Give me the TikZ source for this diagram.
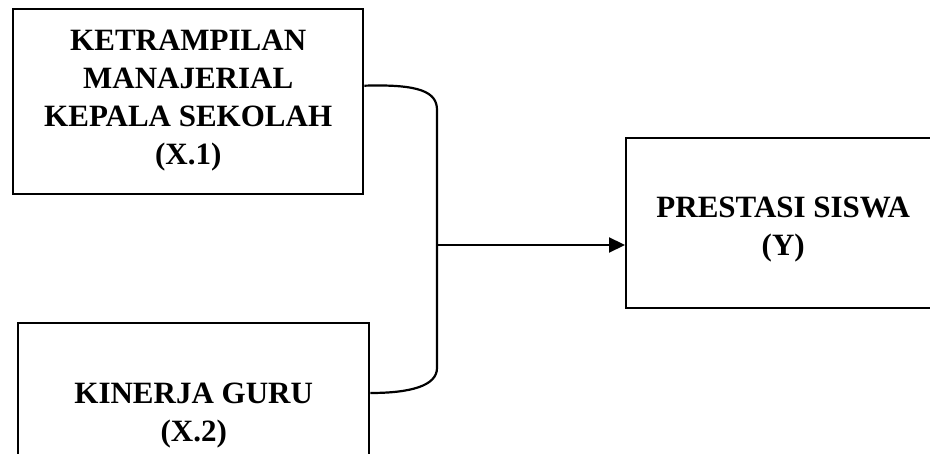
\documentclass[tikz,border=0pt]{standalone}
\usepackage{fontspec}
\setmainfont{Liberation Serif}
\usetikzlibrary{arrows.meta}
\begin{document}
\begin{tikzpicture}[x=1pt,y=-1pt,
  box/.style={draw, line width=2.4pt, rectangle, inner sep=0pt, anchor=north west},
  lbl/.style={align=center, font=\fontsize{31}{38}\selectfont\bfseries},
  conn/.style={line width=2.2pt}]
\useasboundingbox (0,0) rectangle (930,454);
\clip (0,0) rectangle (930,454);
\node[box, minimum width=350pt, minimum height=185pt] (b1) at (12,8) {};
\node[lbl] (t1) at ([yshift=1pt]b1.center) {KETRAMPILAN\\MANAJERIAL\\KEPALA SEKOLAH\\(X.1)};
\node[box, minimum width=351pt, minimum height=180pt] (b2) at (17,322) {};
\node[lbl] (t2) at ([yshift=-2pt]b2.center) {KINERJA GURU\\(X.2)};
\node[box, minimum width=310pt, minimum height=170pt] (b3) at (625,137) {};
\node[lbl] (t3) at ([yshift=-6pt,xshift=2pt]b3.center) {PRESTASI SISWA\\(Y)};
\coordinate (j1) at (437,110);
\coordinate (j2) at (437,368);
\coordinate (jm) at (437,245);
\draw[conn] ([yshift=16pt]b1.east) .. controls (420,84) and (437,92) .. (j1) -- (j2)
  .. controls (437,386) and (410,393) .. ([yshift=-71pt]b2.north east);
\draw[conn, -{Triangle[length=16pt,width=15pt]}] (jm) -- (jm -| b3.west);
\end{tikzpicture}
\end{document}
